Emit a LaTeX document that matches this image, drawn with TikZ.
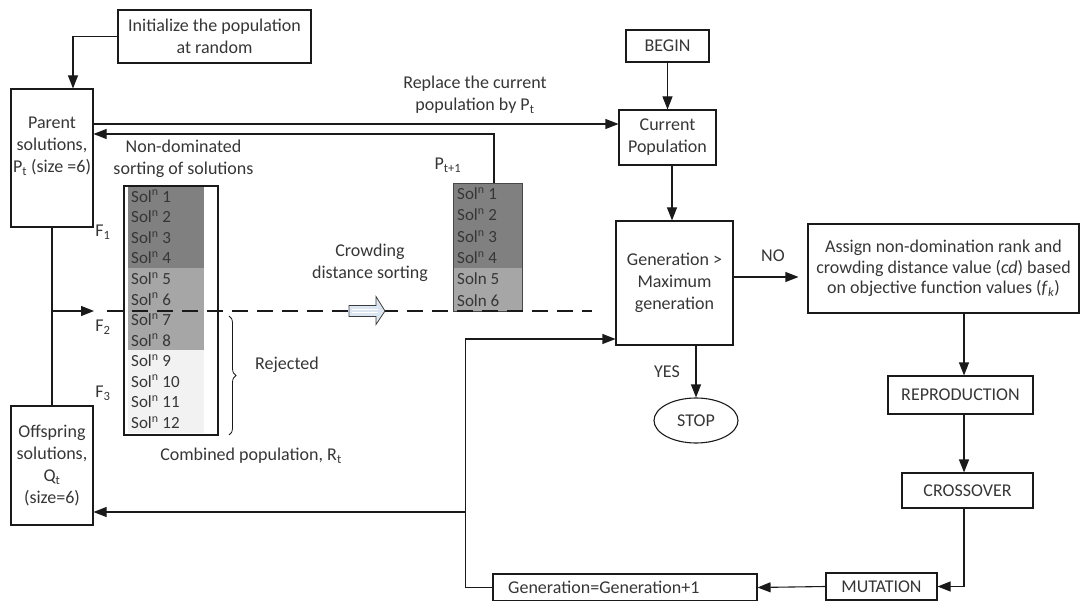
\documentclass[tikz,border=0pt]{standalone}
\usepackage{fontspec}
\setmainfont{Carlito}
\usetikzlibrary{arrows.meta,shapes.geometric,shapes.arrows,decorations.pathreplacing,calc}
\definecolor{txt}{HTML}{363636}
\definecolor{ln}{HTML}{1A1A1A}
\definecolor{fone}{HTML}{808080}
\definecolor{ftwo}{HTML}{A6A6A6}
\definecolor{fthree}{HTML}{F2F2F2}
\definecolor{blk}{HTML}{DCE6F2}
\begin{document}
\begin{tikzpicture}[x=1pt,y=-1pt,
  font=\fontsize{18}{22}\selectfont, text=txt,
  box/.style={draw=ln, line width=1.1pt, inner sep=0pt, align=center},
  lbl/.style={inner sep=0pt, align=center},
  solrow/.style={inner sep=0pt, anchor=west, font=\fontsize{17}{20}\selectfont},
  arr/.style={draw=ln, line width=1.1pt, -{Triangle[length=13pt,width=10pt]}},
  conn/.style={draw=ln, line width=1.1pt},
  dashline/.style={draw=ln, line width=1.1pt, dash pattern=on 16pt off 9pt}]
\useasboundingbox (0,0) rectangle (1081,601);

% ---------- left side boxes ----------
\node[box, minimum width=193pt, minimum height=53pt] (init) at (214.5,36.5) {Initialize the population\\at random};
\node[box, minimum width=82pt, minimum height=138pt] (parent) at (52,158) {};
\node[lbl] (parenttxt) at (52,146) {Parent\\solutions,\\P\textsubscript{t} (size =6)};
\node[box, minimum width=82pt, minimum height=119pt] (off) at (52,465.5) {};
\node[lbl] (offtxt) at (52,466) {Offspring\\solutions,\\Q\textsubscript{t}\\(size=6)};

% ---------- combined population R_t ----------
\foreach \i in {1,...,12}{
  \pgfmathsetmacro{\ytop}{186+(\i-1)*20.55}
  \pgfmathsetmacro{\ymid}{\ytop+10.3}
  \pgfmathsetmacro{\ybot}{\ytop+20.6}
  \ifnum\i<5 \def\fc{fone}\else\ifnum\i<9 \def\fc{ftwo}\else\def\fc{fthree}\fi\fi
  \fill[\fc] (128,\ytop) rectangle (204,\ybot);
  \node[solrow] (r\i) at (131,\ymid) {Sol\textsuperscript{n} \i};
}
\node[draw=ln, line width=1.1pt, inner sep=0pt, minimum width=94pt, minimum height=249pt] (rt) at (171,310.5) {};

\node[lbl] (f1) at (103,232) {F\textsubscript{1}};
\node[lbl] (f2) at (103,327) {F\textsubscript{2}};
\node[lbl] (f3) at (103,393) {F\textsubscript{3}};
\draw[conn, line width=0.8pt, decorate, decoration={brace, amplitude=7pt}] (229,316) -- (229,435);
\node[lbl] (rej) at (287,365) {Rejected};
\node[lbl] (nds) at (183.5,159) {Non-dominated\\sorting of solutions};
\node[lbl] (comb) at (251,456) {Combined population, R\textsubscript{t}};

% ---------- P_{t+1} ----------
\fill[fone] (453,183) rectangle (522,268.3);
\fill[ftwo] (453,268.3) rectangle (522,311);
\node[draw=ln!80, line width=0.7pt, inner sep=0pt, minimum width=69pt, minimum height=128pt] (pt1box) at (487.5,247) {};
\foreach \i in {1,...,4}{
  \pgfmathsetmacro{\yp}{183+(\i-0.5)*21.33}
  \node[solrow] (p\i) at (457,\yp) {Sol\textsuperscript{n} \i};
}
\node[solrow] (p5) at (457,279) {Soln 5};
\node[solrow] (p6) at (457,300.3) {Soln 6};
\node[lbl] (pt1) at (448,165) {P\textsubscript{t+1}};
\node[lbl] (crowd) at (370,262.5) {Crowding\\distance sorting};
\node[lbl] (repl) at (475,95) {Replace the current\\population by P\textsubscript{t}};

% ---------- right flow ----------
\node[box, minimum width=83pt, minimum height=32pt] (begin) at (667.5,46) {BEGIN};
\node[box, minimum width=97pt, minimum height=55pt] (cp) at (667.5,137.5) {Current\\Population};
\node[box, minimum width=117pt, minimum height=124pt] (gen) at (674.5,283) {Generation >\\Maximum\\generation};
\node[draw=ln, line width=1.1pt, ellipse, inner sep=0pt, minimum width=84pt, minimum height=45pt] (stop) at (696,420.5) {STOP};
\node[box, minimum width=271pt, minimum height=89pt, font=\fontsize{18}{20.5}\selectfont] (assign) at (943.5,268.5) {Assign non-domination rank and\\crowding distance value (\textit{cd}) based\\on objective function values (\textit{f}\textsubscript{\textit{k}})};
\node[box, minimum width=145pt, minimum height=38pt] (repro) at (960.5,395) {REPRODUCTION};
\node[box, minimum width=131pt, minimum height=35pt] (cross) at (967.5,490.5) {CROSSOVER};
\node[box, minimum width=111pt, minimum height=27pt] (mut) at (881.5,586.5) {MUTATION};
\node[box, minimum width=264pt, minimum height=27pt] (genp) at (625,587.5) {};
\node[lbl, anchor=west] (genptxt) at (508,587) {Generation=Generation+1};
\node[lbl] (no) at (773,256) {NO};
\node[lbl] (yes) at (667,372) {YES};

% ---------- connectors ----------
\draw[arr] (init.west) -| ([xshift=21pt]parent.north);
\draw[arr] ([yshift=34pt]parent.east) -- ([yshift=34pt]parent.east -| cp.west);
\draw[arr] ([xshift=6.5pt]pt1box.north) |- ([yshift=24pt]parent.east);
\draw[conn] (parent.south) -- (off.north);
\coordinate (j1) at (52,311);
\coordinate (atip) at (94,311);
\coordinate (dstart) at (107,311);
\coordinate (dend) at (592,311);
\draw[arr] (j1) -- (atip);
\draw[dashline] (dstart) -- (dend);
% block (hollow) arrow for crowding distance sorting
\filldraw[fill=blk, draw=ln!85, line width=0.8pt]
  (349,305.5) -- (376,305.5) -- (376,296.5) -- (385,311) -- (376,324.5) -- (376,316.5) -- (349,316.5) -- cycle;
\draw[white, line width=1.2pt] (352,309.5) -- (378,309.5);
\draw[white, line width=1.2pt] (352,312.5) -- (378,312.5);

\draw[arr] (begin) -- (cp);
\draw[arr] ([xshift=4.5pt]cp.south) -- ([xshift=4.5pt]cp.south |- gen.north);
\draw[arr] ([yshift=6pt]gen.east) -- ([yshift=6pt,xshift=-9pt]gen.east -| assign.west);
\draw[arr] ([xshift=21.5pt]gen.south) -- ([xshift=21.5pt]gen.south |- stop.north);
\draw[arr] ([xshift=20.5pt]assign.south) -- ([xshift=20.5pt]assign.south |- repro.north);
\draw[arr] ([xshift=3.5pt]repro.south) -- ([xshift=3.5pt]repro.south |- cross.north);
\draw[arr] ([xshift=-3.5pt]cross.south) |- (mut.east);
\draw[arr] (mut.west) -- (genp.east);
\draw[arr] (genp.west) -- ++(-27,0) |- ([yshift=-56pt]gen.west);
\coordinate (j2) at (466,512);
\draw[arr] (j2) -- (j2 -| off.east);
\end{tikzpicture}
\end{document}
